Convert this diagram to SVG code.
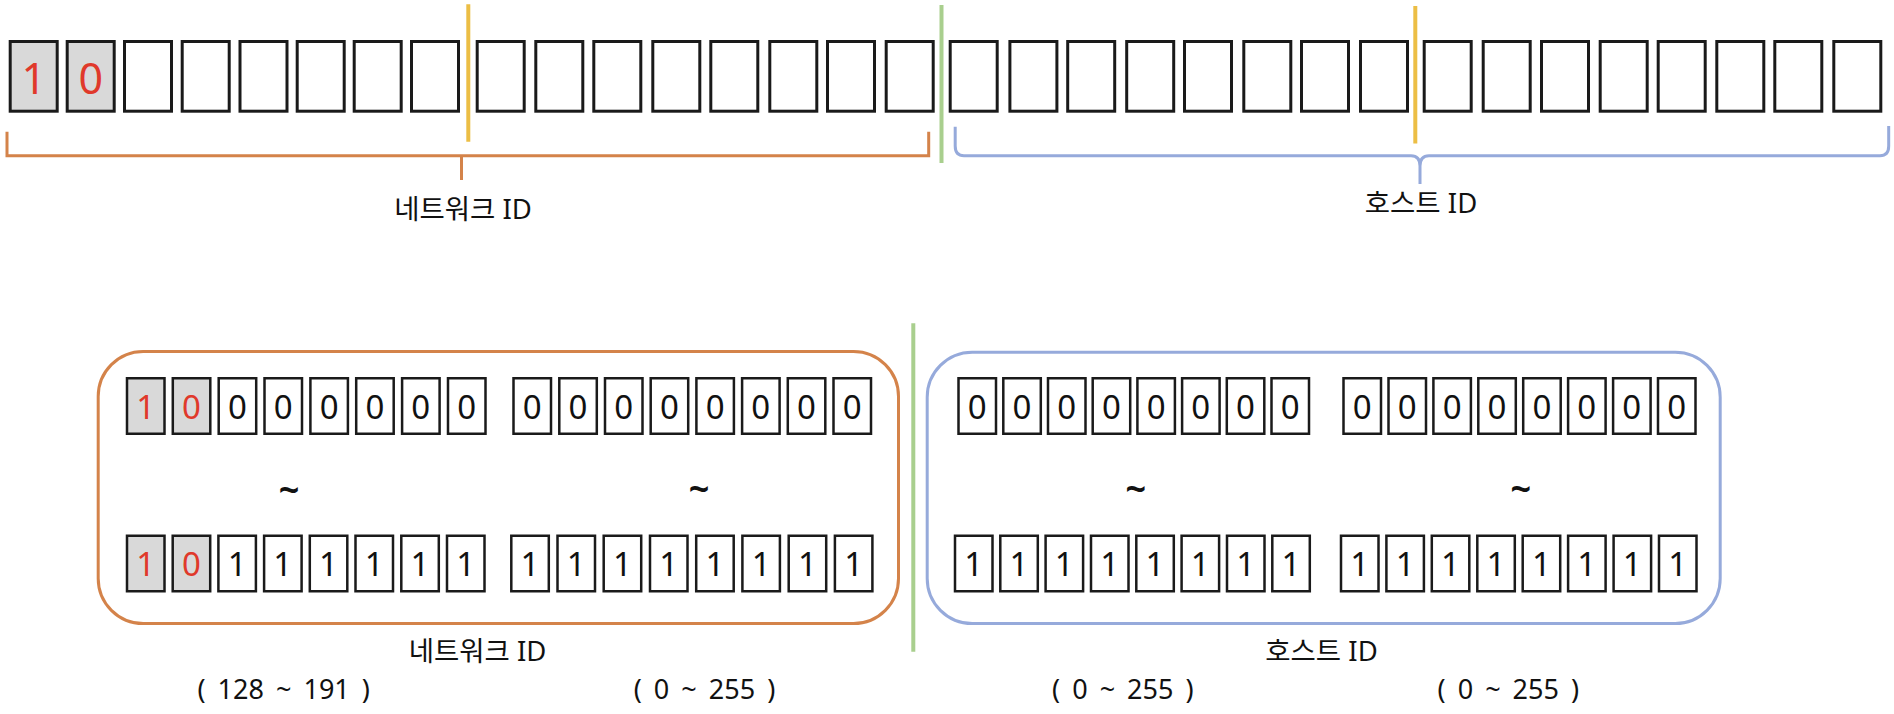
<svg xmlns="http://www.w3.org/2000/svg" width="1894" height="714" viewBox="0 0 1894 714">
<style>
.tb{fill:#fff;stroke:#1a1a1a;stroke-width:3}
.bb{fill:#fff;stroke:#1a1a1a;stroke-width:2.5}
.g{fill:#d9d9d9}
.d{font-family:"Noto Sans","Open Sans",sans-serif;font-size:33px;fill:#111;text-anchor:middle}
.r{fill:#e0392b}
.td{font-family:"Noto Sans","Open Sans",sans-serif;font-size:43px;fill:#e0392b;text-anchor:middle}
.lbl{font-family:"Noto Sans","Noto Sans CJK KR",sans-serif;font-size:27.5px;fill:#111;text-anchor:middle}
.rng{font-family:"Noto Sans","Noto Sans CJK KR",sans-serif;font-size:27px;fill:#111;text-anchor:middle;word-spacing:5px}
.til{font-family:"Noto Sans",sans-serif;font-size:36px;font-weight:bold;fill:#111;text-anchor:middle}
.ora{fill:none;stroke:#d4834a;stroke-width:3}
.blu{fill:none;stroke:#96aadb;stroke-width:3}
.grn{stroke:#a9cf8e;stroke-width:4}
.yel{stroke:#ecbe45;stroke-width:4}
</style>

<g id="top-octet1">
<rect class="tb g" x="10.2" y="41.5" width="47" height="69.7"/>
<rect class="tb g" x="67.2" y="41.5" width="47" height="69.7"/>
<rect class="tb" x="124.5" y="41.5" width="47" height="69.7"/>
<rect class="tb" x="182.2" y="41.5" width="47" height="69.7"/>
<rect class="tb" x="240" y="41.5" width="47" height="69.7"/>
<rect class="tb" x="297.2" y="41.5" width="47" height="69.7"/>
<rect class="tb" x="354.2" y="41.5" width="47" height="69.7"/>
<rect class="tb" x="411.5" y="41.5" width="47" height="69.7"/>
<text class="td" x="33.7" y="94">1</text>
<text class="td" x="90.7" y="94">0</text>
</g>
<g id="top-octet2">
<rect class="tb" x="477.2" y="41.5" width="47" height="69.7"/>
<rect class="tb" x="535.8" y="41.5" width="47" height="69.7"/>
<rect class="tb" x="593.8" y="41.5" width="47" height="69.7"/>
<rect class="tb" x="652.8" y="41.5" width="47" height="69.7"/>
<rect class="tb" x="710.8" y="41.5" width="47" height="69.7"/>
<rect class="tb" x="769.8" y="41.5" width="47" height="69.7"/>
<rect class="tb" x="827.5" y="41.5" width="47" height="69.7"/>
<rect class="tb" x="886.2" y="41.5" width="47" height="69.7"/>
</g>
<g id="top-octet3">
<rect class="tb" x="950.2" y="41.5" width="47" height="69.7"/>
<rect class="tb" x="1009.9" y="41.5" width="47" height="69.7"/>
<rect class="tb" x="1067.7" y="41.5" width="47" height="69.7"/>
<rect class="tb" x="1126.7" y="41.5" width="47" height="69.7"/>
<rect class="tb" x="1184.5" y="41.5" width="47" height="69.7"/>
<rect class="tb" x="1243.8" y="41.5" width="47" height="69.7"/>
<rect class="tb" x="1301.5" y="41.5" width="47" height="69.7"/>
<rect class="tb" x="1360.5" y="41.5" width="47" height="69.7"/>
</g>
<g id="top-octet4">
<rect class="tb" x="1424.2" y="41.5" width="47" height="69.7"/>
<rect class="tb" x="1483.2" y="41.5" width="47" height="69.7"/>
<rect class="tb" x="1541.5" y="41.5" width="47" height="69.7"/>
<rect class="tb" x="1600.2" y="41.5" width="47" height="69.7"/>
<rect class="tb" x="1658.2" y="41.5" width="47" height="69.7"/>
<rect class="tb" x="1716.8" y="41.5" width="47" height="69.7"/>
<rect class="tb" x="1774.8" y="41.5" width="47" height="69.7"/>
<rect class="tb" x="1833.8" y="41.5" width="47" height="69.7"/>
</g>

<g id="connectors">
<line class="yel" x1="468.3" y1="4.3" x2="468.3" y2="141.7"/>
<line class="yel" x1="1415.3" y1="6" x2="1415.3" y2="143.5"/>
<line class="grn" x1="941.5" y1="5" x2="941.5" y2="163"/>
<line class="grn" x1="913.3" y1="323.3" x2="913.3" y2="651.7"/>
<path class="ora" d="M7,131.7 V155.7 H928.7 V131.7 M461.5,155.7 V180"/>
<path class="blu" d="M955.2,126.7 V146 Q955.2,155.7 964,155.7 H1411 Q1420,155.7 1420,166 V184 M1420,166 Q1420,155.7 1429,155.7 H1880 Q1888.7,155.7 1888.7,146 V126"/>
</g>

<g id="label-top-network"><text class="lbl" x="463" y="219">네트워크 ID</text></g>
<g id="label-top-host"><text class="lbl" x="1421" y="213">호스트 ID</text></g>

<g id="network-box">
<rect class="ora" x="98.2" y="351.5" width="800.3" height="272" rx="45" ry="45"/>
</g>
<g id="host-box">
<rect class="blu" x="927.2" y="352.2" width="793" height="271.3" rx="45" ry="45"/>
</g>

<g id="net-row1-octet1">
<rect class="bb g" x="127" y="378.25" width="37.5" height="55.5"/>
<rect class="bb g" x="172.8" y="378.25" width="37.5" height="55.5"/>
<rect class="bb" x="218.7" y="378.25" width="37.5" height="55.5"/>
<rect class="bb" x="264.5" y="378.25" width="37.5" height="55.5"/>
<rect class="bb" x="310.4" y="378.25" width="37.5" height="55.5"/>
<rect class="bb" x="356.2" y="378.25" width="37.5" height="55.5"/>
<rect class="bb" x="402.1" y="378.25" width="37.5" height="55.5"/>
<rect class="bb" x="448" y="378.25" width="37.5" height="55.5"/>
<text class="d r" x="145.7" y="419">1</text>
<text class="d r" x="191.5" y="419">0</text>
<text class="d" x="237.4" y="419">0</text>
<text class="d" x="283.2" y="419">0</text>
<text class="d" x="329.1" y="419">0</text>
<text class="d" x="374.9" y="419">0</text>
<text class="d" x="420.8" y="419">0</text>
<text class="d" x="466.7" y="419">0</text>
</g>
<g id="net-row1-octet2">
<rect class="bb" x="513.5" y="378.25" width="37.5" height="55.5"/>
<rect class="bb" x="559.3" y="378.25" width="37.5" height="55.5"/>
<rect class="bb" x="605" y="378.25" width="37.5" height="55.5"/>
<rect class="bb" x="650.7" y="378.25" width="37.5" height="55.5"/>
<rect class="bb" x="696.4" y="378.25" width="37.5" height="55.5"/>
<rect class="bb" x="742.1" y="378.25" width="37.5" height="55.5"/>
<rect class="bb" x="787.8" y="378.25" width="37.5" height="55.5"/>
<rect class="bb" x="833.5" y="378.25" width="37.5" height="55.5"/>
<text class="d" x="532.2" y="419">0</text>
<text class="d" x="578" y="419">0</text>
<text class="d" x="623.7" y="419">0</text>
<text class="d" x="669.4" y="419">0</text>
<text class="d" x="715.1" y="419">0</text>
<text class="d" x="760.8" y="419">0</text>
<text class="d" x="806.5" y="419">0</text>
<text class="d" x="852.2" y="419">0</text>
</g>
<g id="net-row2-octet1">
<rect class="bb g" x="127" y="535.75" width="37.5" height="55.5"/>
<rect class="bb g" x="172.7" y="535.75" width="37.5" height="55.5"/>
<rect class="bb" x="218.4" y="535.75" width="37.5" height="55.5"/>
<rect class="bb" x="264.1" y="535.75" width="37.5" height="55.5"/>
<rect class="bb" x="309.8" y="535.75" width="37.5" height="55.5"/>
<rect class="bb" x="355.5" y="535.75" width="37.5" height="55.5"/>
<rect class="bb" x="401.3" y="535.75" width="37.5" height="55.5"/>
<rect class="bb" x="447" y="535.75" width="37.5" height="55.5"/>
<text class="d r" x="145.7" y="576">1</text>
<text class="d r" x="191.4" y="576">0</text>
<text class="d" x="237.1" y="576">1</text>
<text class="d" x="282.8" y="576">1</text>
<text class="d" x="328.5" y="576">1</text>
<text class="d" x="374.2" y="576">1</text>
<text class="d" x="420" y="576">1</text>
<text class="d" x="465.7" y="576">1</text>
</g>
<g id="net-row2-octet2">
<rect class="bb" x="511.3" y="535.75" width="37.5" height="55.5"/>
<rect class="bb" x="557.5" y="535.75" width="37.5" height="55.5"/>
<rect class="bb" x="603.7" y="535.75" width="37.5" height="55.5"/>
<rect class="bb" x="650" y="535.75" width="37.5" height="55.5"/>
<rect class="bb" x="696.2" y="535.75" width="37.5" height="55.5"/>
<rect class="bb" x="742.4" y="535.75" width="37.5" height="55.5"/>
<rect class="bb" x="788.7" y="535.75" width="37.5" height="55.5"/>
<rect class="bb" x="834.9" y="535.75" width="37.5" height="55.5"/>
<text class="d" x="530" y="576">1</text>
<text class="d" x="576.2" y="576">1</text>
<text class="d" x="622.4" y="576">1</text>
<text class="d" x="668.7" y="576">1</text>
<text class="d" x="714.9" y="576">1</text>
<text class="d" x="761.1" y="576">1</text>
<text class="d" x="807.4" y="576">1</text>
<text class="d" x="853.6" y="576">1</text>
</g>

<g id="host-row1-octet3">
<rect class="bb" x="958.5" y="378.25" width="37.5" height="55.5"/>
<rect class="bb" x="1003.3" y="378.25" width="37.5" height="55.5"/>
<rect class="bb" x="1048" y="378.25" width="37.5" height="55.5"/>
<rect class="bb" x="1092.7" y="378.25" width="37.5" height="55.5"/>
<rect class="bb" x="1137.4" y="378.25" width="37.5" height="55.5"/>
<rect class="bb" x="1182.1" y="378.25" width="37.5" height="55.5"/>
<rect class="bb" x="1226.8" y="378.25" width="37.5" height="55.5"/>
<rect class="bb" x="1271.5" y="378.25" width="37.5" height="55.5"/>
<text class="d" x="977.2" y="419">0</text>
<text class="d" x="1022" y="419">0</text>
<text class="d" x="1066.7" y="419">0</text>
<text class="d" x="1111.4" y="419">0</text>
<text class="d" x="1156.1" y="419">0</text>
<text class="d" x="1200.8" y="419">0</text>
<text class="d" x="1245.5" y="419">0</text>
<text class="d" x="1290.2" y="419">0</text>
</g>
<g id="host-row1-octet4">
<rect class="bb" x="1343.5" y="378.25" width="37.5" height="55.5"/>
<rect class="bb" x="1388.5" y="378.25" width="37.5" height="55.5"/>
<rect class="bb" x="1433.4" y="378.25" width="37.5" height="55.5"/>
<rect class="bb" x="1478.3" y="378.25" width="37.5" height="55.5"/>
<rect class="bb" x="1523.2" y="378.25" width="37.5" height="55.5"/>
<rect class="bb" x="1568.1" y="378.25" width="37.5" height="55.5"/>
<rect class="bb" x="1613.1" y="378.25" width="37.5" height="55.5"/>
<rect class="bb" x="1658" y="378.25" width="37.5" height="55.5"/>
<text class="d" x="1362.2" y="419">0</text>
<text class="d" x="1407.2" y="419">0</text>
<text class="d" x="1452.1" y="419">0</text>
<text class="d" x="1497" y="419">0</text>
<text class="d" x="1541.9" y="419">0</text>
<text class="d" x="1586.8" y="419">0</text>
<text class="d" x="1631.8" y="419">0</text>
<text class="d" x="1676.7" y="419">0</text>
</g>
<g id="host-row2-octet3">
<rect class="bb" x="955" y="535.75" width="37.5" height="55.5"/>
<rect class="bb" x="1000.3" y="535.75" width="37.5" height="55.5"/>
<rect class="bb" x="1045.6" y="535.75" width="37.5" height="55.5"/>
<rect class="bb" x="1091" y="535.75" width="37.5" height="55.5"/>
<rect class="bb" x="1136.3" y="535.75" width="37.5" height="55.5"/>
<rect class="bb" x="1181.6" y="535.75" width="37.5" height="55.5"/>
<rect class="bb" x="1227" y="535.75" width="37.5" height="55.5"/>
<rect class="bb" x="1272.3" y="535.75" width="37.5" height="55.5"/>
<text class="d" x="973.7" y="576">1</text>
<text class="d" x="1019" y="576">1</text>
<text class="d" x="1064.3" y="576">1</text>
<text class="d" x="1109.7" y="576">1</text>
<text class="d" x="1155" y="576">1</text>
<text class="d" x="1200.3" y="576">1</text>
<text class="d" x="1245.7" y="576">1</text>
<text class="d" x="1291" y="576">1</text>
</g>
<g id="host-row2-octet4">
<rect class="bb" x="1341" y="535.75" width="37.5" height="55.5"/>
<rect class="bb" x="1386.4" y="535.75" width="37.5" height="55.5"/>
<rect class="bb" x="1431.8" y="535.75" width="37.5" height="55.5"/>
<rect class="bb" x="1477.3" y="535.75" width="37.5" height="55.5"/>
<rect class="bb" x="1522.7" y="535.75" width="37.5" height="55.5"/>
<rect class="bb" x="1568.1" y="535.75" width="37.5" height="55.5"/>
<rect class="bb" x="1613.6" y="535.75" width="37.5" height="55.5"/>
<rect class="bb" x="1659" y="535.75" width="37.5" height="55.5"/>
<text class="d" x="1359.7" y="576">1</text>
<text class="d" x="1405.1" y="576">1</text>
<text class="d" x="1450.5" y="576">1</text>
<text class="d" x="1496" y="576">1</text>
<text class="d" x="1541.4" y="576">1</text>
<text class="d" x="1586.8" y="576">1</text>
<text class="d" x="1632.3" y="576">1</text>
<text class="d" x="1677.7" y="576">1</text>
</g>

<g id="tildes">
<text class="til" x="289" y="503">~</text>
<text class="til" x="699" y="502">~</text>
<text class="til" x="1135.7" y="502">~</text>
<text class="til" x="1520.7" y="502">~</text>
</g>

<g id="label-bottom-network"><text class="lbl" x="477.5" y="661">네트워크 ID</text></g>
<g id="label-bottom-host"><text class="lbl" x="1321.5" y="661">호스트 ID</text></g>

<g id="ranges">
<text class="rng" x="283.7" y="699">( 128 ~ 191 )</text>
<text class="rng" x="704.5" y="699">( 0 ~ 255 )</text>
<text class="rng" x="1122.8" y="699">( 0 ~ 255 )</text>
<text class="rng" x="1508.3" y="699">( 0 ~ 255 )</text>
</g>
</svg>
